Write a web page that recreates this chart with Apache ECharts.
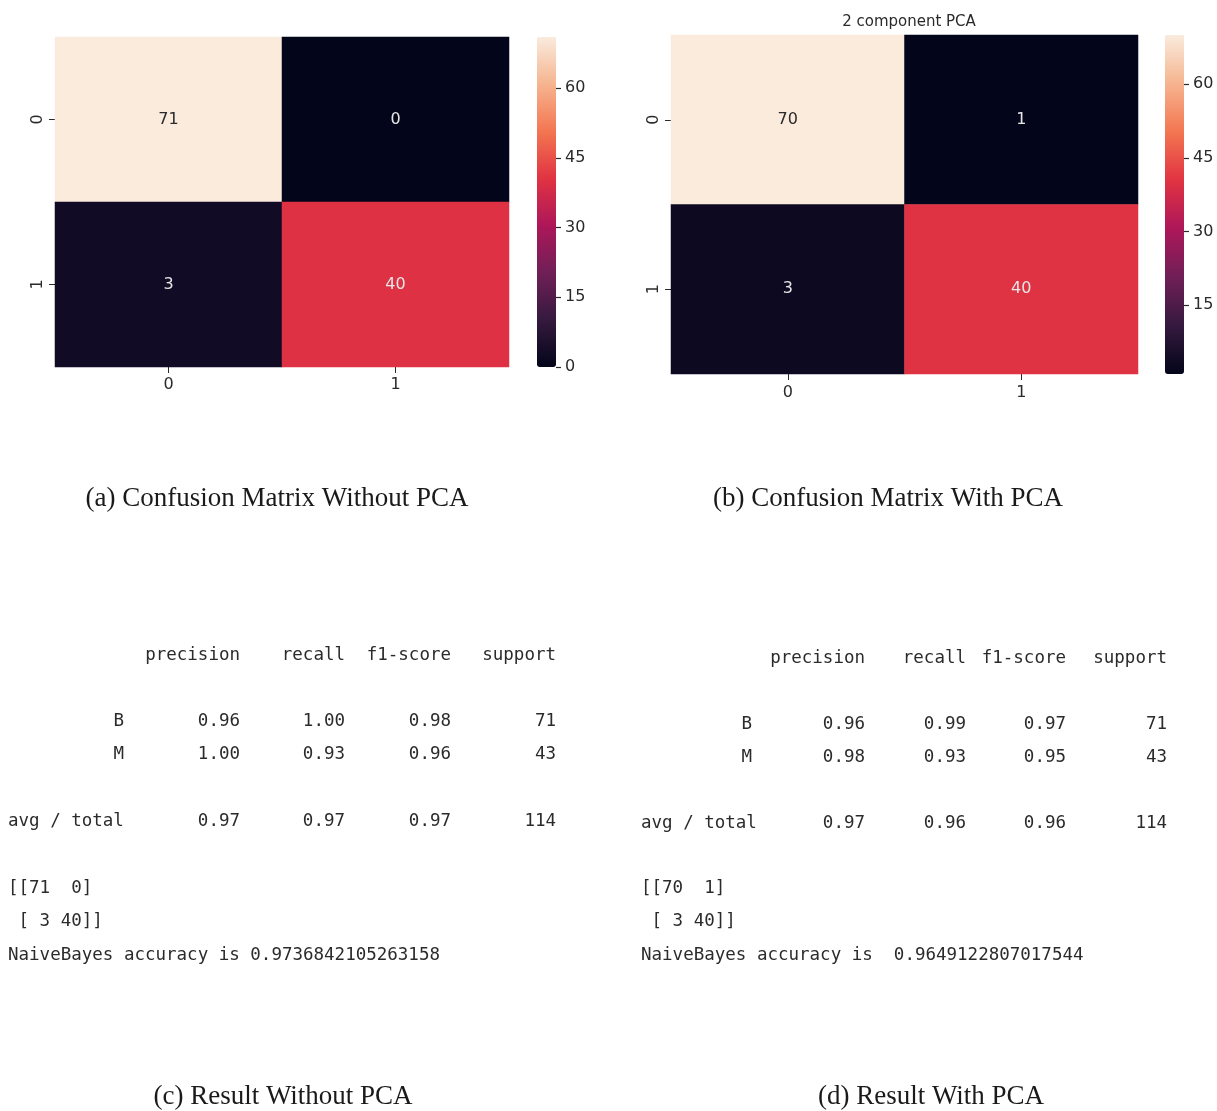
<!DOCTYPE html>
<html>
<head>
<meta charset="utf-8">
<script src="https://cdn.jsdelivr.net/npm/echarts@6/dist/echarts.min.js"></script>
<style>
html,body{margin:0;padding:0;background:#fff;}
#chart{width:1217px;height:1111px;}
</style>
</head>
<body>
<div id="chart"></div>
<script>
// ---------- DATA ----------
const classLabels = ['0', '1'];
const cmWithoutPCA = [[71, 0], [3, 40]];
const cmWithPCA = [[70, 1], [3, 40]];
const cbTicksWithout = [0, 15, 30, 45, 60];
const cbTicksWith = [15, 30, 45, 60];
const pcaTitle = '2 component PCA';

const reportCols = ['precision', 'recall', 'f1-score', 'support'];
const reportRowLabels = ['B', 'M', 'avg / total'];
const resWithoutB = ['0.96', '1.00', '0.98', '71'];
const resWithoutM = ['1.00', '0.93', '0.96', '43'];
const resWithoutAvg = ['0.97', '0.97', '0.97', '114'];
const resWithB = ['0.96', '0.99', '0.97', '71'];
const resWithM = ['0.98', '0.93', '0.95', '43'];
const resWithAvg = ['0.97', '0.96', '0.96', '114'];
const accWithout = '0.9736842105263158';
const accWith = '0.9649122807017544';

const captions = ['(a) Confusion Matrix Without PCA', '(b) Confusion Matrix With PCA',
                  '(c) Result Without PCA', '(d) Result With PCA'];

// ---------- STYLE ----------
const rocket = ['#03051a', '#35193e', '#701f57', '#ad1759', '#e13342', '#f37651', '#f6b48f', '#faebdd'];
const axisColor = '#2a2a2a';
const sansFont = 'DejaVu Sans';
const monoFont = 'DejaVu Sans Mono';
const serifFont = 'Liberation Serif';
const lblSize = 16;

const panels = [
  {cm: cmWithoutPCA, grid: {left: 55, top: 37, width: 454, height: 330}, cb: {left: 537, top: 37, width: 19, height: 330}, ticks: cbTicksWithout, xMargin: 10},
  {cm: cmWithPCA, grid: {left: 671, top: 35, width: 467, height: 339}, cb: {left: 1165, top: 35, width: 19, height: 339}, ticks: cbTicksWith, xMargin: 11}
];

function heatData(cm, vmin, vmax) {
  const out = [];
  cm.forEach((row, r) => row.forEach((v, c) => {
    const t = (v - vmin) / (vmax - vmin);
    out.push({value: [c, r, v], label: {color: t > 0.6 ? '#2a2a2a' : '#e6e6e6'}});
  }));
  return out;
}

const grid = [], xAxis = [], yAxis = [], series = [], visualMap = [];
panels.forEach((p, i) => {
  const flat = p.cm.flat();
  const vmin = Math.min(...flat), vmax = Math.max(...flat);
  grid.push(Object.assign({containLabel: false}, p.grid));
  xAxis.push({type: 'category', gridIndex: 2 * i, data: classLabels, position: 'bottom',
    axisLine: {show: false}, axisTick: {show: true, length: 6, alignWithLabel: true, lineStyle: {color: axisColor}},
    axisLabel: {color: axisColor, fontSize: lblSize, fontFamily: sansFont, margin: p.xMargin}, splitLine: {show: false}});
  yAxis.push({type: 'category', gridIndex: 2 * i, data: classLabels, inverse: true,
    axisLine: {show: false}, axisTick: {show: true, length: 6, alignWithLabel: true, lineStyle: {color: axisColor}},
    axisLabel: {color: axisColor, fontSize: lblSize, fontFamily: sansFont, rotate: 90, margin: 9}, splitLine: {show: false}});
  series.push({type: 'heatmap', xAxisIndex: 2 * i, yAxisIndex: 2 * i, data: heatData(p.cm, vmin, vmax),
    label: {show: true, fontSize: lblSize, fontFamily: sansFont}, itemStyle: {borderWidth: 0}, emphasis: {disabled: true}});
  visualMap.push({type: 'continuous', seriesIndex: 2 * i, min: vmin, max: vmax, inRange: {color: rocket},
    show: true, calculable: false, orient: 'vertical', left: p.cb.left, top: p.cb.top, padding: 0,
    itemWidth: p.cb.width, itemHeight: p.cb.height, text: null, showLabel: false, hoverLink: false});
  // colorbar tick axis: a thin grid starting at the bar's right edge, axis on its left side
  grid.push({left: p.cb.left + p.cb.width, top: p.cb.top, width: 30, height: p.cb.height, z: 5});
  xAxis.push({type: 'value', gridIndex: 2 * i + 1, show: false, min: 0, max: 1});
  yAxis.push({type: 'value', gridIndex: 2 * i + 1, position: 'left', min: vmin, max: vmax, z: 10,
    axisLine: {show: false}, splitLine: {show: false},
    axisTick: {show: true, inside: true, length: 5, customValues: p.ticks, lineStyle: {color: axisColor, width: 1.2}},
    axisLabel: {inside: true, color: axisColor, fontSize: lblSize, fontFamily: sansFont, margin: 9, customValues: p.ticks}});
  series.push({type: 'scatter', xAxisIndex: 2 * i + 1, yAxisIndex: 2 * i + 1, data: [], silent: true});
});

const graphic = [];
function txt(x, y, text, opts) {
  graphic.push({type: 'text', x: x, y: y, silent: true,
    style: Object.assign({text: text, fill: '#2b2b2b', fontFamily: monoFont, fontSize: 17.5,
      align: 'left', verticalAlign: 'middle'}, opts || {})});
}
function fmt2(v) { return String(v).padStart(2, ' '); }
function report(cfg) {
  reportCols.forEach((c, k) => txt(cfg.colX[k], cfg.headY, c, {align: 'right'}));
  const rows = [cfg.rowB, cfg.rowM, cfg.rowAvg];
  rows.forEach((vals, r) => {
    if (r < 2) txt(cfg.labelX, cfg.rowY[r], reportRowLabels[r], {align: 'right'});
    else txt(cfg.left, cfg.rowY[r], reportRowLabels[r]);
    vals.forEach((v, k) => txt(cfg.colX[k], cfg.rowY[r], v, {align: 'right'}));
  });
  const cm = cfg.cm;
  txt(cfg.left, cfg.cmY[0], '[[' + fmt2(cm[0][0]) + ' ' + fmt2(cm[0][1]) + ']', {});
  txt(cfg.left, cfg.cmY[1], ' [' + fmt2(cm[1][0]) + ' ' + fmt2(cm[1][1]) + ']]', {});
  txt(cfg.left, cfg.cmY[2], 'NaiveBayes accuracy is' + cfg.accSep + cfg.acc, {});
}
report({colX: [240, 345, 451, 556], headY: 655, labelX: 124, rowY: [721, 754, 821], left: 8,
  rowB: resWithoutB, rowM: resWithoutM, rowAvg: resWithoutAvg, cm: cmWithoutPCA, cmY: [888, 921, 955],
  acc: accWithout, accSep: ' '});
report({colX: [865, 966, 1066, 1167], headY: 658, labelX: 752, rowY: [724, 757, 823], left: 641,
  rowB: resWithB, rowM: resWithM, rowAvg: resWithAvg, cm: cmWithPCA, cmY: [888, 921, 955],
  acc: accWith, accSep: '  '});

const capStyle = {fontFamily: serifFont, fontSize: 27, fill: '#1a1a1a', align: 'center'};
txt(277, 499, captions[0], capStyle);
txt(888, 499, captions[1], capStyle);
txt(283, 1097, captions[2], capStyle);
txt(931, 1097, captions[3], capStyle);

const option = {
  backgroundColor: '#ffffff',
  animation: false,
  title: [{text: pcaTitle, left: 904, top: 10, textAlign: 'center',
    textStyle: {fontSize: 15, fontWeight: 'normal', color: axisColor, fontFamily: sansFont}}],
  grid: grid, xAxis: xAxis, yAxis: yAxis, visualMap: visualMap, series: series, graphic: graphic
};
const chart = echarts.init(document.getElementById('chart'), null, {renderer: 'canvas'});
chart.setOption(option);
</script>
</body>
</html>
